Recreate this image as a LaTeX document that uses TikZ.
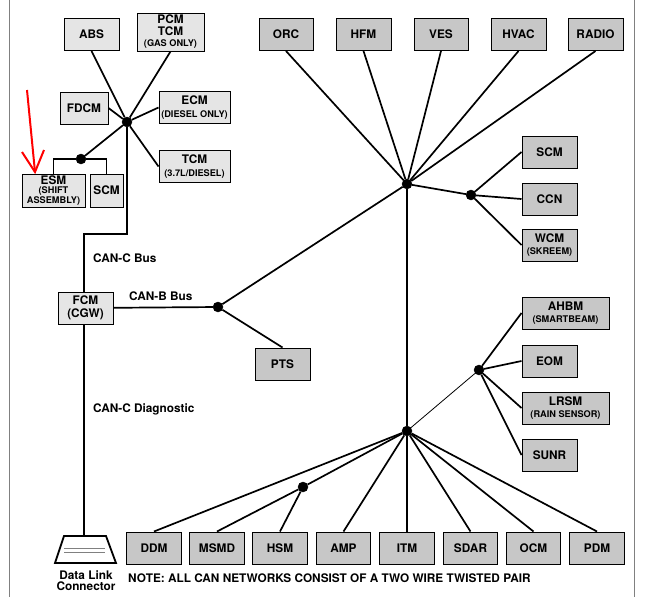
\documentclass[tikz,border=0pt]{standalone}
\usepackage{fontspec}
\setmainfont{TeX Gyre Heros}
\usetikzlibrary{positioning,calc}
\definecolor{boxlight}{gray}{0.90}
\definecolor{boxdark}{gray}{0.78}
\newcommand{\subtxt}[1]{{\fontsize{9.2}{10}\selectfont #1}}

\begin{document}
\begin{tikzpicture}[x=1pt,y=-1pt,
	every node/.style={font=\fontsize{11.8}{12.5}\selectfont\bfseries,inner sep=0pt,align=center},
	modlight/.style={draw=black,line width=1pt,fill=boxlight,minimum height=32pt},
	moddark/.style={draw=black,line width=1pt,fill=boxdark,minimum height=32pt},
	hub/.style={draw,fill,circle,minimum size=10pt},
	wire/.style={line width=1.7pt},
	lbl/.style={anchor=west}]

\useasboundingbox (0,0) rectangle (645,597);
\draw[gray,line width=1pt](9,0)--(9,597);
\draw[gray,line width=1pt](634,0)--(634,597);

% CAN-C modules
\node[modlight,minimum width=55pt](abs) at (91.5,34.5) {ABS};
\node[modlight,minimum width=67pt,minimum height=38pt](pcm) at (170.5,32) {PCM\\[-1pt]TCM\\[-1pt]\subtxt{(GAS ONLY)}};
\node[modlight,minimum width=48pt](fdcm) at (84,108) {FDCM};
\node[modlight,minimum width=71pt](ecm) at (194.5,107.5) {ECM\\\subtxt{(DIESEL ONLY)}};
\node[modlight,minimum width=71pt](tcm) at (194.5,166.5) {TCM\\\subtxt{(3.7L/DIESEL)}};
\node[modlight,minimum width=63pt,minimum height=33pt](esm) at (53.5,190.5) {ESM\\[-3pt]\subtxt{(SHIFT}\\[-3pt]\subtxt{ASSEMBLY)}};
\node[modlight,minimum width=33pt,minimum height=33pt](scma) at (106.5,190.5) {SCM};
\node[modlight,minimum width=55pt](fcm) at (85.5,308) {FCM\\(CGW)};

% CAN-B modules
\node[moddark,minimum width=54pt](orc) at (286,34.5) {ORC};
\node[moddark,minimum width=55pt](hfm) at (363.5,34.5) {HFM};
\node[moddark,minimum width=54pt](ves) at (441,34.5) {VES};
\node[moddark,minimum width=55pt](hvac) at (518.5,34.5) {HVAC};
\node[moddark,minimum width=55pt](radio) at (595.5,34.5) {RADIO};
\node[moddark,minimum width=55pt](scmb) at (549.5,152) {SCM};
\node[moddark,minimum width=55pt](ccn) at (549.5,199) {CCN};
\node[moddark,minimum width=55pt](wcm) at (549.5,245) {WCM\\\subtxt{(SKREEM)}};
\node[moddark,minimum width=87pt](ahbm) at (565.5,313) {AHBM\\\subtxt{(SMARTBEAM)}};
\node[moddark,minimum width=55pt](eom) at (549.5,361) {EOM};
\node[moddark,minimum width=87pt](lrsm) at (565.5,408) {LRSM\\\subtxt{(RAIN SENSOR)}};
\node[moddark,minimum width=55pt](sunr) at (549.5,455) {SUNR};
\node[moddark,minimum width=55pt](pts) at (282.5,364) {PTS};
\foreach \n/\t/\x in {ddm/DDM/154,msmd/MSMD/217,hsm/HSM/280,amp/AMP/343.5,itm/ITM/407,sdar/SDAR/470.5,ocm/OCM/533.5,pdm/PDM/597}{
	\node[moddark,minimum width=54.5pt](\n) at (\x,548) {\t};
}

% splices
\node[hub](h1) at (127,122) {};
\node[hub](h2) at (81,159) {};
\node[hub](h3) at (218,307) {};
\node[hub](h4) at (407,184) {};
\node[hub](h5) at (471,195) {};
\node[hub](h6) at (479,370) {};
\node[hub](h7) at (407,431) {};
\node[hub](h8) at (303,487) {};

\foreach \x/\y in {h1/abs.south,h1/pcm.south,h1/fdcm.east,h1/ecm.west,h1/tcm.west,h1/h2,
	h3/h4,h3/pts.north,h4/h5,h4/h7,h4/orc.south,h4/hfm.south,h4/ves.south,h4/hvac.south,h4/radio.south,
	h5/scmb.west,h5/ccn.west,h5/wcm.west,h6/ahbm.west,h6/eom.west,h6/lrsm.west,h6/sunr.west,
	h7/ddm.north,h7/h8,h8/msmd.north,h8/hsm.north,h7/amp.north,h7/itm.north,h7/sdar.north,h7/ocm.north,h7/pdm.north,
	fcm/h3}{
	\draw[wire](\x)--(\y);
}
\draw[line width=0.8pt](h6)--(h7);
\draw[wire](h2)-|(esm.north);
\draw[wire](h2)-|(scma.north);
\draw[wire](h1)|-(84,234)--(fcm.north-|84,0);

% data link connector
\coordinate(dlc) at (84,536);
\draw[line width=1.8pt,fill=white](64,536)--(106,536)--(116,563)--(55,563)--cycle;
\draw[gray,line width=0.7pt](64,548)--(105,548);
\draw[gray,line width=0.7pt](64,552)--(105,552);
\draw[line width=1.3pt](fcm.south-|84,0)--(dlc);
\node(dlctxt) at (86,580.5) {Data Link\\[-1pt]Connector};

% bus labels
\node[lbl](canc) at (93,258) {CAN-C Bus};
\node[lbl](canb) at (129,296) {CAN-B Bus};
\node[lbl](diag) at (93,409) {CAN-C Diagnostic};
\node[lbl](note) at (128,578) {NOTE: ALL CAN NETWORKS CONSIST OF A TWO WIRE TWISTED PAIR};

% marker
\coordinate(ra) at (27,90);
\coordinate(rb) at (35,172);
\coordinate(rc) at (22,152);
\coordinate(rd) at (44,150);
\draw[red,line width=2pt](ra)--(rb);
\draw[red,line width=2pt](rc)--(rb)--(rd);
\end{tikzpicture}
\end{document}
